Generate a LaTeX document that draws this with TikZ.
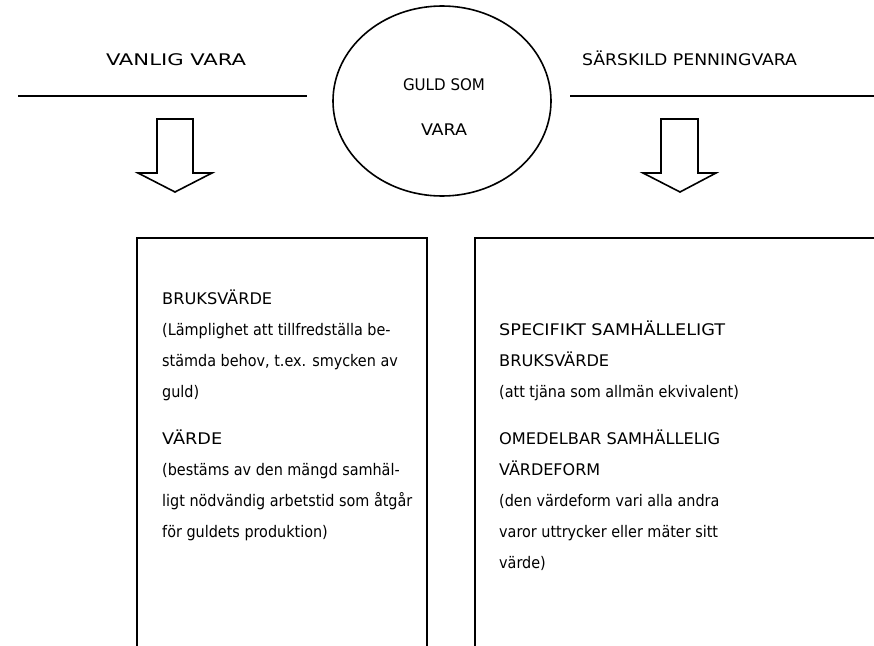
\documentclass[tikz,border=0pt]{standalone}
\usepackage{fontspec}
\setmainfont{DejaVu Sans Condensed}
\newlength\fitlen
\newcommand\fitto[2]{\settowidth\fitlen{#2}\pgfmathsetmacro\fitf{#1/\fitlen}\scalebox{\fitf}[1]{#2}}
\begin{document}
\begin{tikzpicture}[x=1pt,y=-1pt,
  lbl/.style={inner sep=0pt,anchor=base west,font=\fontsize{16}{18}\selectfont},
  hd/.style={inner sep=0pt,anchor=base,font=\fontsize{16}{18}\selectfont},
  ln/.style={line width=1.6pt,line join=miter}]
\useasboundingbox (0,0) rectangle (874,645);
% top lines
\draw[ln] (18,96) -- (307,96);
\draw[ln] (570,96) -- (874,96);
% ellipse
\draw[ln] (442,101) ellipse [x radius=109pt, y radius=95pt];
\node[hd] (gs) at (444,90) {\fitto{82}{GULD SOM}};
\node[hd] (gv) at (444,135) {\fitto{46}{VARA}};
\node[hd] (vv) at (176,65) {\fitto{140}{VANLIG VARA}};
\node[hd] (sp) at (689.5,65) {\fitto{215}{SÄRSKILD PENNINGVARA}};
% arrows
\draw[ln] (157,119) -- (193,119) -- (193,173) -- (212,173) -- (175,192) -- (138,173) -- (157,173) -- cycle;
\draw[ln] (661,119) -- (698,119) -- (698,173) -- (716,173) -- (680,192) -- (643,173) -- (661,173) -- cycle;
% boxes
\draw[ln] (137,650) -- (137,238) -- (427,238) -- (427,650);
\draw[ln] (475,650) -- (475,238) -- (880,238);
% left text
\node[lbl] (l1) at (162,304) {\fitto{110}{BRUKSVÄRDE}};
\node[lbl] (l2) at (162,335) {(Lämplighet att tillfredställa be-};
\node[lbl] (l3) at (162,366) {stämda behov, t.ex. smycken av};
\node[lbl] (l4) at (162,397) {guld)};
\node[lbl] (l5) at (162,444) {\fitto{60}{VÄRDE}};
\node[lbl] (l6) at (162,475) {(bestäms av den mängd samhäl-};
\node[lbl] (l7) at (162,506) {ligt nödvändig arbetstid som åtgår};
\node[lbl] (l8) at (162,537) {för guldets produktion)};
% right text
\node[lbl] (r1) at (499,335) {\fitto{226}{SPECIFIKT SAMHÄLLELIGT}};
\node[lbl] (r2) at (499,366) {\fitto{110}{BRUKSVÄRDE}};
\node[lbl] (r3) at (499,397) {(att tjäna som allmän ekvivalent)};
\node[lbl] (r4) at (499,444) {\fitto{221}{OMEDELBAR SAMHÄLLELIG}};
\node[lbl] (r5) at (499,475) {\fitto{101}{VÄRDEFORM}};
\node[lbl] (r6) at (499,506) {(den värdeform vari alla andra};
\node[lbl] (r7) at (499,537) {varor uttrycker eller mäter sitt};
\node[lbl] (r8) at (499,568) {värde)};
\end{tikzpicture}
\end{document}
